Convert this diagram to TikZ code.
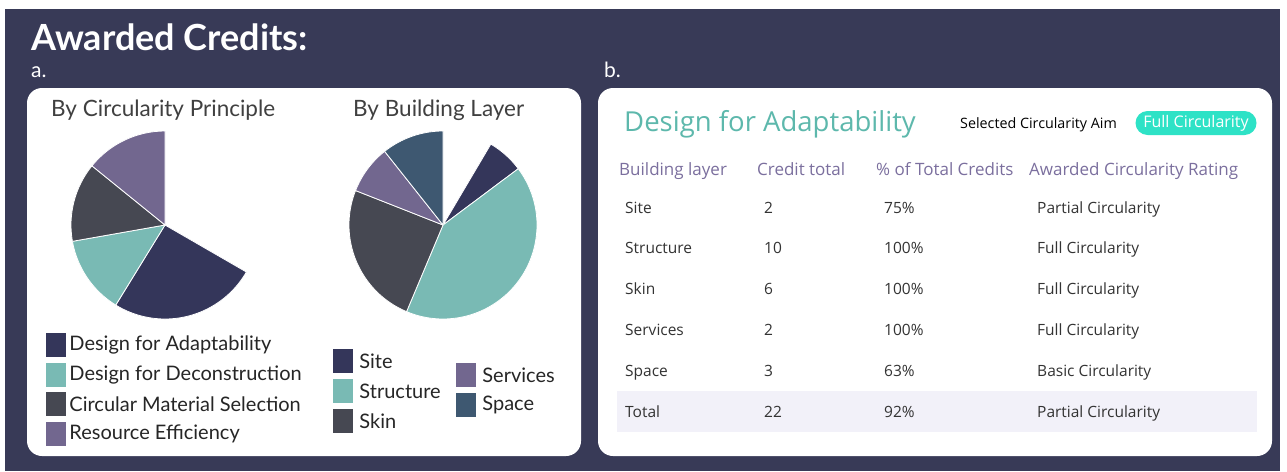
\documentclass[tikz,border=0pt]{standalone}
\usepackage{fontspec}
\setmainfont{Lato}
\newfontfamily\tabfont{Open Sans}
\usetikzlibrary{positioning}
\definecolor{bgnavy}{HTML}{383A57}
\definecolor{sitenavy}{HTML}{34365A}
\definecolor{structteal}{HTML}{79BAB4}
\definecolor{skingrey}{HTML}{464852}
\definecolor{servpurple}{HTML}{72678F}
\definecolor{spaceblue}{HTML}{3E5871}
\definecolor{titleteal}{HTML}{5DB8AC}
\definecolor{pillteal}{HTML}{2EE2C6}
\definecolor{headpurple}{HTML}{7B6F9E}
\definecolor{totalbg}{HTML}{F2F1F9}

\begin{document}
\begin{tikzpicture}[x=1pt,y=1pt,
    panel/.style={fill=white,rounded corners=15pt},
    slice/.style={draw=white,line width=0.8pt,line join=round},
    keybox/.style={minimum width=20pt,minimum height=24pt,inner sep=0pt},
    keytext/.style={font=\fontsize{20}{22}\selectfont,text=black!85,inner sep=0pt},
    headtext/.style={font=\fontsize{22.5}{25}\selectfont,text=black!75,inner sep=0pt,anchor=base west},
    colhead/.style={font=\tabfont\fontsize{17}{19}\selectfont,text=headpurple,inner sep=0pt,anchor=base west},
    cell/.style={font=\tabfont\fontsize{15.5}{17}\selectfont,text=black!80,inner sep=0pt,anchor=base west}]
  \useasboundingbox (0,0) rectangle (1287,-471);
  \fill[white] (0,0) rectangle (1287,-471);
  \fill[bgnavy] (5,-9) rectangle (1280,-471);
  % titles
  \node[font=\bfseries\fontsize{36}{40}\selectfont,text=white,inner sep=0pt,anchor=base west] (title) at (31,-50) {Awarded Credits:};
  \node[font=\fontsize{21}{24}\selectfont,text=white,inner sep=0pt,anchor=base west] (parta) at (31,-77) {a.};
  \node[font=\fontsize{21}{24}\selectfont,text=white,inner sep=0pt,anchor=base west] (partb) at (604,-77) {b.};
  % panels
  \fill[panel] (27,-88) rectangle (581,-456);
  \fill[panel] (598,-88) rectangle (1272,-456);
  % left panel: pies
  \node[headtext] (cphead) at (51,-116) {By Circularity Principle};
  \node[headtext] (blhead) at (353,-116) {By Building Layer};
  \coordinate (cppie) at (165,-225);
  \coordinate (blpie) at (443,-225);
  \foreach \a/\b/\c in {-30/-121.6/sitenavy,-121.6/-170/structteal,-170/-219/skingrey,-219/-270/servpurple}
    \filldraw[slice,fill=\c] (cppie) -- ++(\a:94) arc[start angle=\a,end angle=\b,radius=94] -- cycle;
  \foreach \a/\b/\c in {59.4/36.8/sitenavy,36.8/-112.8/structteal,-112.8/-201.5/skingrey,-201.5/-231.6/servpurple,-231.6/-270/spaceblue}
    \filldraw[slice,fill=\c] (blpie) -- ++(\a:94) arc[start angle=\a,end angle=\b,radius=94] -- cycle;
  % legends
  \foreach \c/\t [count=\i] in {sitenavy/Design for Adaptability,structteal/Design for Deconstruction,skingrey/Circular Material Selection,servpurple/Resource Efficiency}{
    \node[keybox,fill=\c] (cpkey\i) at (56,{-345-29.7*(\i-1)}) {};
    \node[keytext,right=3pt of cpkey\i] (cplab\i) {\t};}
  \foreach \c/\t [count=\i] in {sitenavy/Site,structteal/Structure,skingrey/Skin}{
    \node[keybox,fill=\c] (blkey\i) at (343,{-361-30*(\i-1)}) {};
    \node[keytext,right=6pt of blkey\i] (bllab\i) {\t};}
  \foreach \c/\t [count=\i] in {servpurple/Services,spaceblue/Space}{
    \node[keybox,fill=\c] (slkey\i) at (466,{-375-29.5*(\i-1)}) {};
    \node[keytext,right=6pt of slkey\i] (sllab\i) {\t};}
  % right panel: table
  \node[font=\tabfont\fontsize{27.5}{31}\selectfont,text=titleteal,inner sep=0pt,anchor=base west] (daname) at (624,-131) {Design for Adaptability};
  \node[font=\tabfont\fontsize{14.3}{16}\selectfont,text=black,inner sep=0pt,anchor=base west] (aimlab) at (960,-128) {Selected Circularity Aim};
  \node[fill=pillteal,rounded corners=12pt,minimum width=121pt,minimum height=24pt,inner sep=0pt,
        text=white,font=\tabfont\fontsize{16}{18}\selectfont] (aim) at (1196,-123) {Full Circularity};
  \node[colhead] (hlay) at (619,-175) {Building layer};
  \node[colhead] (hcred) at (757,-175) {Credit total};
  \node[colhead] (hpct) at (876,-175) {\% of Total Credits};
  \node[colhead] (hrate) at (1029,-175) {Awarded Circularity Rating};
  \fill[totalbg] (617,-391) rectangle (1257,-432);
  \foreach \lay/\cred/\pct/\rate [count=\i] in {Site/2/75\%/Partial Circularity,Structure/10/100\%/Full Circularity,
      Skin/6/100\%/Full Circularity,Services/2/100\%/Full Circularity,Space/3/63\%/Basic Circularity,
      Total/22/92\%/Partial Circularity}{
    \node[cell] (lay\i) at (625,{-213-40.8*(\i-1)}) {\lay};
    \node[cell] (cred\i) at (764,{-213-40.8*(\i-1)}) {\cred};
    \node[cell] (pct\i) at (884,{-213-40.8*(\i-1)}) {\pct};
    \node[cell] (rate\i) at (1037,{-213-40.8*(\i-1)}) {\rate};}
\end{tikzpicture}
\end{document}
